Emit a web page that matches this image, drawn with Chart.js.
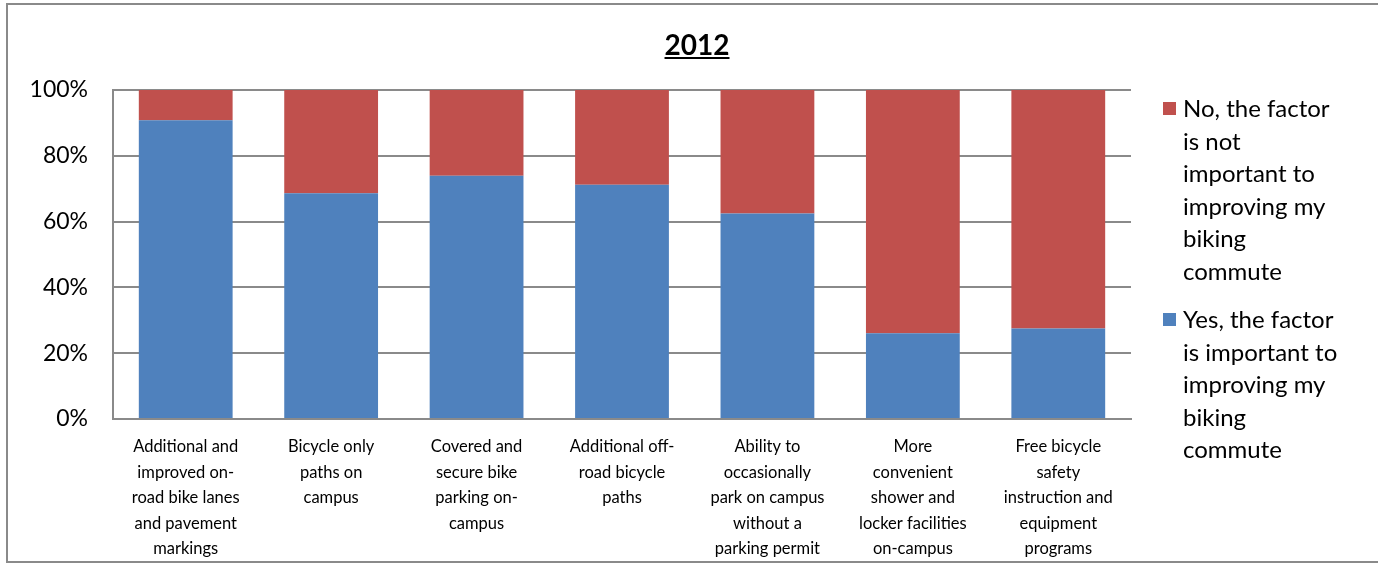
<!DOCTYPE html>
<html>
<head>
<meta charset="utf-8">
<script src="https://cdn.jsdelivr.net/npm/chart.js@4.4.1/dist/chart.umd.min.js"></script>
<style>
    html, body { margin: 0; padding: 0; background: #fff; }
    body { width: 1378px; height: 566px; position: relative; overflow: hidden; font-family: Lato, "Open Sans", sans-serif; }
    #frame { position: absolute; left: 6px; top: 3px; width: 1380px; height: 560px; border: 2px solid #8a8a8a; box-sizing: border-box; }
    #wrap { position: absolute; left: 0; top: 0; width: 1378px; height: 566px; }
    #title { position: absolute; left: 597px; width: 200px; top: 27px; text-align: center; font-weight: bold; font-size: 28px; text-decoration: underline; color: #000; }
    #legend { position: absolute; left: 1163px; top: 92px; width: 210px; font-size: 24px; color: #000; }
    .item { position: relative; padding-left: 20px; margin-bottom: 16px; line-height: 32.5px; }
    .swatch { position: absolute; left: 0; top: 10px; width: 13px; height: 13px; }
</style>
</head>
<body>
<div id="frame"></div>
<div id="wrap"><canvas id="surveyChart" width="1378" height="566"></canvas></div>
<div id="title">2012</div>
<div id="legend"></div>

<script>
// Categories (x axis labels, already split into lines like the original)
const categories = [
    ['Additional and', 'improved on-', 'road bike lanes', 'and pavement', 'markings'],
    ['Bicycle only', 'paths on', 'campus'],
    ['Covered and', 'secure bike', 'parking on-', 'campus'],
    ['Additional off-', 'road bicycle', 'paths'],
    ['Ability to', 'occasionally', 'park on campus', 'without a', 'parking permit'],
    ['More', 'convenient', 'shower and', 'locker facilities', 'on-campus'],
    ['Free bicycle', 'safety', 'instruction and', 'equipment', 'programs']
];

// Share of respondents (%)
const yesValues = [90.8, 68.6, 73.9, 71.2, 62.5, 26.1, 27.5];
const noValues = [9.2, 31.4, 26.1, 28.8, 37.5, 73.9, 72.5];

const yesLabelLines = ['Yes, the factor', 'is important to', 'improving my', 'biking', 'commute'];
const noLabelLines = ['No, the factor', 'is not', 'important to', 'improving my', 'biking', 'commute'];

const yTicks = [0, 20, 40, 60, 80, 100];

const BLUE = '#4F81BD';
const RED = '#C0504D';
const GRID = '#8a8a8a';

let surveyChart = null;

document.addEventListener('DOMContentLoaded', function() {
    const ctx = document.getElementById('surveyChart').getContext('2d');

    surveyChart = new Chart(ctx, {
        type: 'bar',
        data: {
            labels: categories,
            datasets: [{
                label: yesLabelLines.join(' '),
                data: yesValues,
                backgroundColor: BLUE,
                legendLines: yesLabelLines
            }, {
                label: noLabelLines.join(' '),
                data: noValues,
                backgroundColor: RED,
                legendLines: noLabelLines
            }]
        },
        options: {
            responsive: false,
            animation: false,
            layout: { padding: { top: 90, right: 247, left: 0, bottom: 0 } },
            datasets: {
                bar: { categoryPercentage: 1, barPercentage: 0.645 }
            },
            plugins: {
                legend: { display: false },
                title: { display: false },
                tooltip: { enabled: false }
            },
            scales: {
                x: {
                    stacked: true,
                    grid: { display: false, drawTicks: false },
                    border: { display: true, color: GRID, width: 2 },
                    ticks: {
                        color: '#000',
                        font: { family: 'Lato', size: 16.5, lineHeight: 1.55 },
                        padding: 15,
                        maxRotation: 0,
                        autoSkip: false
                    },
                    afterFit: function(scale) { scale.height = 147; }
                },
                y: {
                    stacked: true,
                    min: 0,
                    max: 100,
                    afterBuildTicks: function(scale) {
                        scale.ticks = yTicks.map(v => ({ value: v }));
                    },
                    grid: { color: GRID, lineWidth: 2, drawTicks: false },
                    border: { display: true, color: GRID, width: 2 },
                    ticks: {
                        color: '#000',
                        font: { family: 'Lato', size: 23 },
                        padding: 25,
                        callback: v => v + '%'
                    },
                    afterFit: function(scale) { scale.width = 113; }
                }
            }
        }
    });

    buildLegend(surveyChart);
});

// HTML legend so the long labels can wrap like the original (top item first)
function buildLegend(chart) {
    const legend = document.getElementById('legend');
    const items = chart.data.datasets.slice().reverse();
    items.forEach(ds => {
        const item = document.createElement('div');
        item.className = 'item';
        const swatch = document.createElement('span');
        swatch.className = 'swatch';
        swatch.style.background = ds.backgroundColor;
        item.appendChild(swatch);
        ds.legendLines.forEach(line => {
            const row = document.createElement('div');
            row.textContent = line;
            item.appendChild(row);
        });
        legend.appendChild(item);
    });
}
</script>
</body>
</html>
